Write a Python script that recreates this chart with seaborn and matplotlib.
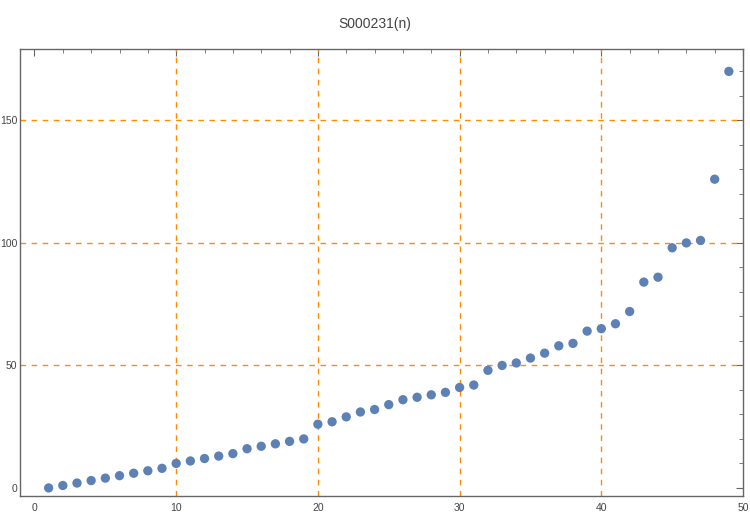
import pandas as pd
import matplotlib.pyplot as plt
import seaborn as sns
from matplotlib.ticker import MultipleLocator

# data
n = list(range(1, 50))
values = [0, 1, 2, 3, 4, 5, 6, 7, 8, 10,
          11, 12, 13, 14, 16, 17, 18, 19, 20, 26,
          27, 29, 31, 32, 34, 36, 37, 38, 39, 41,
          42, 48, 50, 51, 53, 55, 58, 59, 64, 65,
          67, 72, 84, 86, 98, 100, 101, 126, 170]
x_ticks = [0, 10, 20, 30, 40, 50]
y_ticks = [0, 50, 100, 150]
grid_x = [10, 20, 30, 40]
grid_y = [50, 100, 150]

df = pd.DataFrame({'n': n, 'value': values})

sns.set_style('white')
plt.rcParams['font.family'] = ['Liberation Sans Narrow', 'Liberation Sans', 'DejaVu Sans']

fig = plt.figure(figsize=(7.5, 5.14), dpi=100)
ax = fig.add_axes([0.0267, 0.035, 0.964, 0.869])

for gx in grid_x:
    ax.axvline(gx, color='#FF8C00', linestyle=(0, (4, 4)), linewidth=1, zorder=1)
for gy in grid_y:
    ax.axhline(gy, color='#FF8C00', linestyle=(0, (4, 4)), linewidth=1, zorder=1)

sns.scatterplot(data=df, x='n', y='value', ax=ax, color='#5E81B5',
                s=45, edgecolor='none', zorder=3)

ax.set_xlim(-1.02, 50)
ax.set_ylim(-3.3, 179)
ax.set_xticks(x_ticks)
ax.set_yticks(y_ticks)
ax.xaxis.set_minor_locator(MultipleLocator(2))
ax.yaxis.set_minor_locator(MultipleLocator(10))
ax.set_xlabel('')
ax.set_ylabel('')

for sp in ax.spines.values():
    sp.set_color('#666666')
    sp.set_linewidth(1)

ax.tick_params(which='both', direction='in', top=True, right=True,
               color='#666666', labelcolor='#444444', labelsize=7.5)
ax.tick_params(which='major', length=5)
ax.tick_params(which='minor', length=3)
ax.tick_params(axis='x', pad=5)
ax.tick_params(axis='y', pad=2)

fig.text(0.5, 0.953, 'S000231(n)', ha='center', va='center',
         fontsize=10, color='#444444')

fig.savefig('out.png', dpi=100)
